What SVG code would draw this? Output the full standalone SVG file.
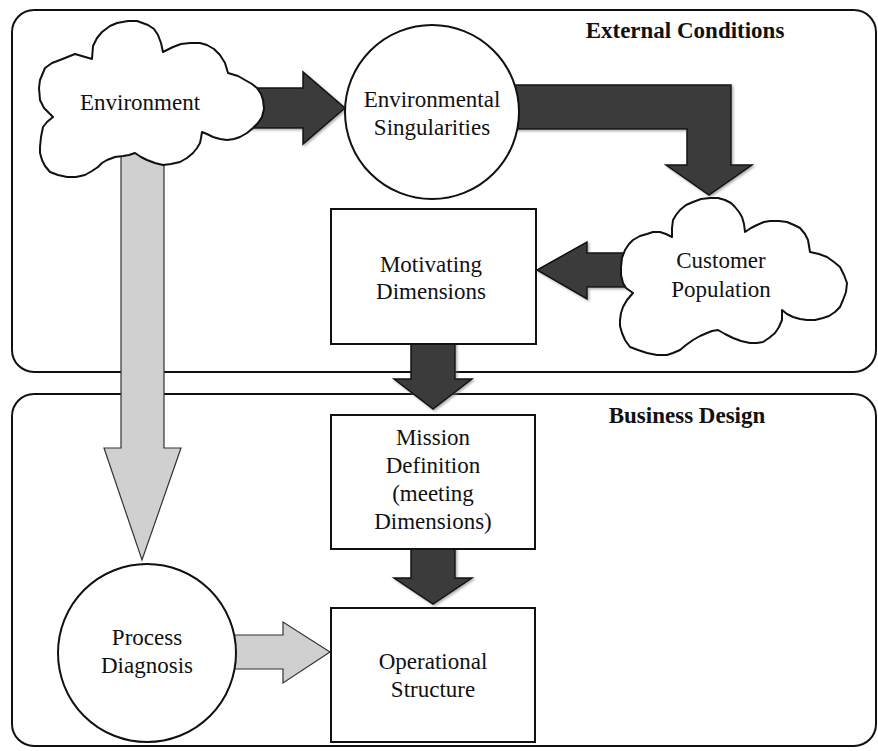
<svg xmlns="http://www.w3.org/2000/svg" width="878" height="751" viewBox="0 0 878 751">
<defs>
<filter id="sh" x="-10%" y="-10%" width="130%" height="130%">
<feDropShadow dx="1.5" dy="1.5" stdDeviation="1" flood-color="#777" flood-opacity="0.6"/>
</filter>
</defs>
<style>
.panel{fill:#fff;stroke:#111;stroke-width:2}
.box{fill:#fff;stroke:#111;stroke-width:2}
.cloud{fill:#fff;stroke:#111;stroke-width:2;stroke-linejoin:round}
.dark{fill:#3a3a3a;stroke:#111;stroke-width:1.5;stroke-linejoin:miter}
.grey{fill:#d0d0d0;stroke:#333;stroke-width:1.2}
text{font-family:"Liberation Serif","Times New Roman",serif;font-size:23px;fill:#111;text-anchor:middle}
.title{font-weight:bold}
</style>
<rect width="878" height="751" fill="#fff"/>
<g id="panels">
<rect class="panel" x="12" y="10" width="864" height="362" rx="22"/>
<rect class="panel" x="12" y="394" width="864" height="352" rx="22"/>
<text class="title" x="685" y="38">External Conditions</text>
<text class="title" x="687" y="423">Business Design</text>
</g>
<g id="connectors">
<polygon class="grey" points="121,150 164,150 164,448 181,448 142,560 104,448 121,448"/>
<polygon class="grey" points="230,635 283,635 283,622 330,652 283,683 283,669 230,669"/>
<polygon class="dark" filter="url(#sh)" points="245,88 303,88 303,72 345,108 303,144 303,128 245,128"/>
<polygon class="dark" filter="url(#sh)" points="505,85 731,85 731,165 752,165 709,195 666,165 687,165 687,129 505,129"/>
<polygon class="dark" filter="url(#sh)" points="635,253 587,253 587,242 537,270 587,299 587,287 635,287"/>
<polygon class="dark" filter="url(#sh)" points="411,340 455,340 455,379 472,379 433,409 394,379 411,379"/>
<polygon class="dark" filter="url(#sh)" points="411,545 455,545 455,578 472,578 433,604 394,578 411,578"/>
</g>
<g id="environment">
<path class="cloud" d="M53,117 L44,108 L40,100 L39,88 L40,80 L45,68 L52,63 L60,60 L75,54 L92,59 L93,46 L97,38 L102,32 L110,26 L117,23 L128,21 L137,21 L148,25 L154,29 L158,35 L161,43 L163,52 L173,47 L181,44 L190,43 L200,43 L207,45 L214,49 L220,55 L225,63 L228,73 L238,76 L245,80 L252,84 L257,88 L261,94 L263,100 L264,109 L262,117 L258,123 L253,128 L247,133 L240,137 L234,139 L227,140 L220,139 L213,137 L207,134 L202,132 L201,138 L200,143 L197,148 L193,153 L187,158 L180,162 L171,164 L163,165 L155,163 L147,160 L141,157 L135,153 L129,155 L123,156 L115,157 L107,160 L102,163 L98,167 L92,171 L85,175 L76,177 L67,177 L58,175 L50,172 L45,166 L42,160 L40,153 L40,147 L41,137 L43,127 L47,122 Z"/>
<text x="140" y="110">Environment</text>
</g>
<g id="singularities">
<circle class="box" cx="432" cy="112" r="87"/>
<text x="432" y="107">Environmental</text>
<text x="432" y="135">Singularities</text>
</g>
<g id="customer">
<path class="cloud" d="M633,293 L626,288 L623,283 L621,275 L621,267 L622,258 L625,250 L629,244 L633,240 L640,236 L647,234 L653,232 L660,232 L666,234 L672,237 L672,228 L673,220 L676,215 L680,210 L686,205 L693,202 L701,199 L710,198 L718,198 L725,200 L731,203 L735,207 L739,212 L742,217 L744,224 L745,232 L751,228 L757,225 L764,222 L770,221 L779,221 L787,222 L794,225 L800,228 L805,234 L808,240 L809,246 L810,252 L819,254 L827,257 L834,262 L840,267 L844,275 L847,283 L846,292 L843,300 L840,307 L835,312 L829,316 L823,318 L815,320 L807,320 L800,319 L793,317 L787,314 L782,310 L782,315 L782,320 L779,327 L775,333 L769,338 L763,342 L757,343 L750,343 L741,341 L733,338 L725,334 L718,330 L712,331 L707,333 L700,336 L693,340 L686,345 L680,350 L673,353 L667,355 L657,355 L647,353 L638,350 L630,347 L625,340 L622,333 L620,326 L620,320 L621,313 L623,307 L627,300 Z"/>
<text x="721" y="268">Customer</text>
<text x="721" y="297">Population</text>
</g>
<g id="motivating">
<rect class="box" x="331" y="209" width="205" height="135"/>
<text x="431" y="272">Motivating</text>
<text x="431" y="299">Dimensions</text>
</g>
<g id="mission">
<rect class="box" x="331" y="415" width="204" height="134"/>
<text x="433" y="445">Mission</text>
<text x="433" y="473">Definition</text>
<text x="433" y="501">(meeting</text>
<text x="433" y="529">Dimensions)</text>
</g>
<g id="process">
<circle class="box" cx="147" cy="653" r="89"/>
<text x="147" y="645">Process</text>
<text x="147" y="673">Diagnosis</text>
</g>
<g id="operational">
<rect class="box" x="331" y="608" width="204" height="134"/>
<text x="433" y="669">Operational</text>
<text x="433" y="697">Structure</text>
</g>
</svg>
